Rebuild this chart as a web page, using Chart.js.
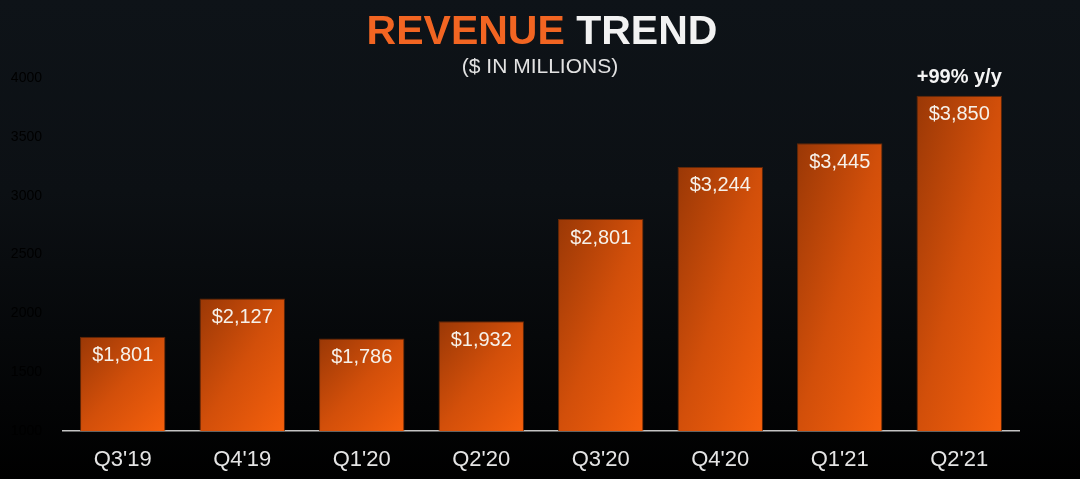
<!DOCTYPE html>
<html>
<head>
<meta charset="utf-8">
<script src="https://cdn.jsdelivr.net/npm/chart.js@4"></script>
<style>
  html, body { margin: 0; padding: 0; }
  body {
    width: 1080px; height: 479px; overflow: hidden;
    background: linear-gradient(180deg, #0e1318 0%, #0c1014 40%, #06080a 70%, #000 100%);
  }
  #wrap { position: relative; width: 1080px; height: 479px; }
</style>
</head>
<body>
<div id="wrap"><canvas id="chart1"></canvas></div>
<script>
// data
const quarters = ["Q3'19", "Q4'19", "Q1'20", "Q2'20", "Q3'20", "Q4'20", "Q1'21", "Q2'21"];
const revenue = [1801, 2127, 1786, 1932, 2801, 3244, 3445, 3850];
const notes = ["", "", "", "", "", "", "", "+99% y/y"];
const yTicks = [1000, 1500, 2000, 2500, 3000, 3500, 4000];

const FONT = "'Liberation Sans', Arial, sans-serif";
const BAR_PCT = 0.715;

// title drawn in the top padding
const titlePlugin = {
  id: 'titleText',
  afterDraw(chart) {
    const c = chart.ctx;
    c.save();
    c.textBaseline = 'middle';
    c.font = 'bold 41px ' + FONT;
    const a = 'REVENUE ', b = 'TREND';
    const wa = c.measureText(a).width, wb = c.measureText(b).width;
    let x = 542 - (wa + wb) / 2;
    c.textAlign = 'left';
    c.fillStyle = '#f26522';
    c.fillText(a, x, 33);
    c.fillStyle = '#f2f2f2';
    c.fillText(b, x + wa, 33);
    c.font = '21px ' + FONT;
    c.textAlign = 'center';
    c.fillStyle = '#e2e2e2';
    c.fillText('($ IN MILLIONS)', 540, 67);
    c.restore();
  }
};

// diagonal gradient per bar, built from the scales (isolines run corner to corner)
function barGradient(context) {
  const chart = context.chart;
  if (!chart.chartArea || context.dataIndex === undefined) return '#d24f0a';
  const xs = chart.scales.x, ys = chart.scales.y;
  const i = context.dataIndex;
  const w = (xs.width / quarters.length) * BAR_PCT;
  const top = ys.getPixelForValue(revenue[i]);
  const base = ys.getPixelForValue(ys.min);
  const h = base - top;
  const x0 = xs.getPixelForValue(i) - w / 2;
  const k = 2 * w * h / (w * w + h * h);
  const g = chart.ctx.createLinearGradient(x0, top, x0 + h * k, top + w * k);
  g.addColorStop(0, '#9a3806');
  g.addColorStop(0.5, '#d24f0a');
  g.addColorStop(1, '#f6600c');
  return g;
}

// value labels inside bars + note above
const labelPlugin = {
  id: 'valueLabels',
  afterDatasetsDraw(chart) {
    const c = chart.ctx;
    c.save();
    c.textAlign = 'center';
    c.textBaseline = 'middle';
    chart.getDatasetMeta(0).data.forEach((bar, i) => {
      c.font = '20px ' + FONT;
      c.fillStyle = '#f6f1ea';
      c.fillText('$' + revenue[i].toLocaleString('en-US'), bar.x, bar.y + 19);
      if (notes[i]) {
        c.font = 'bold 20px ' + FONT;
        c.fillStyle = '#f4f4f4';
        c.fillText(notes[i], bar.x, bar.y - 18);
      }
    });
    c.restore();
  }
};

const ctx = document.getElementById("chart1").getContext('2d');
const RevGraph = new Chart(ctx, {
  type: 'bar',
  data: {
    labels: quarters,
    datasets: [
      {
        label: 'Revenue',
        data: revenue,
        backgroundColor: barGradient,
        borderColor: 'rgba(120, 45, 5, 0.8)',
        borderWidth: 1,
        categoryPercentage: 1.0,
        barPercentage: BAR_PCT
      }
    ]
  },
  options: {
    responsive: true,
    maintainAspectRatio: false,
    animation: false,
    layout: { padding: { left: 0, right: 61, top: 78, bottom: 0 } },
    scales: {
      y: {
        min: 1000,
        max: 4000,
        afterBuildTicks: (scale) => { scale.ticks = yTicks.map(v => ({ value: v })); },
        afterFit: (scale) => { scale.width = 63; },
        grid: { display: false },
        border: { display: false },
        ticks: {
          color: '#000000',
          font: { family: FONT, size: 14 },
          padding: 13,
          callback: (v) => String(v)
        }
      },
      x: {
        afterFit: (scale) => { scale.height = 48; },
        grid: { display: false, drawTicks: false },
        border: { display: true, color: '#c4c4c4', width: 1.5 },
        ticks: {
          color: '#e4e4e4',
          font: { family: FONT, size: 22 },
          padding: 16
        }
      }
    },
    plugins: {
      legend: { display: false },
      tooltip: { enabled: false }
    }
  },
  plugins: [labelPlugin, titlePlugin]
});
</script>
</body>
</html>
